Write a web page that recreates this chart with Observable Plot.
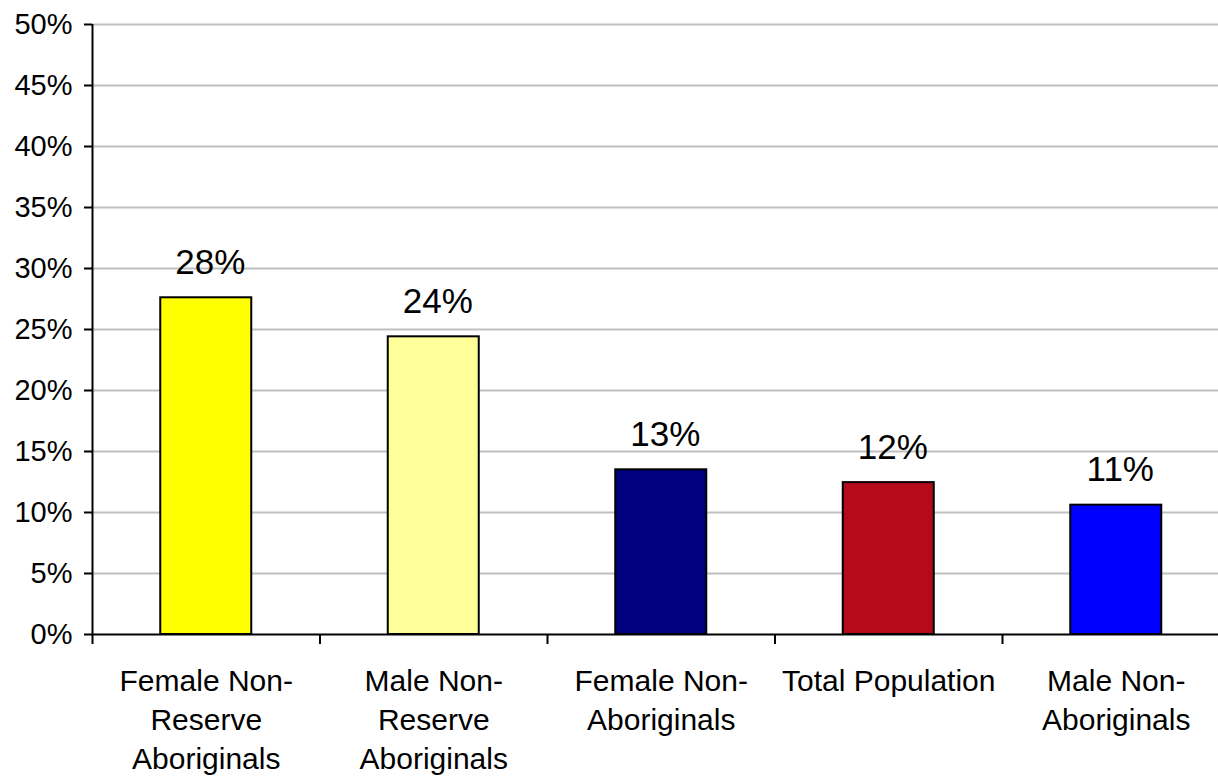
<!DOCTYPE html>
<html><head><meta charset="utf-8">
<script src="https://cdn.jsdelivr.net/npm/d3@7"></script>
<script src="https://cdn.jsdelivr.net/npm/@observablehq/plot@0.6"></script>
<style>html,body{margin:0;padding:0;background:#fff;overflow:hidden}</style>
</head><body><div id="chart"></div>
<script>
const categories = ["Female Non-\nReserve\nAboriginals", "Male Non-\nReserve\nAboriginals", "Female Non-\nAboriginals", "Total Population", "Male Non-\nAboriginals"];
const values = [27.6, 24.4, 13.5, 12.45, 10.6];
const valueLabels = ["28%", "24%", "13%", "12%", "11%"];
const colors = ["#FFFF00", "#FFFF99", "#000080", "#B40A1A", "#0000FF"];
const yTicks = [0, 5, 10, 15, 20, 25, 30, 35, 40, 45, 50];

const data = categories.map((c, i) => ({i, name: c, value: values[i], label: valueLabels[i], color: colors[i]}));

const plot = Plot.plot({
  width: 1218, height: 776,
  marginLeft: 92, marginTop: 24, marginBottom: 142, marginRight: -11.5,
  style: {fontFamily: "'Liberation Sans', Arial, sans-serif", fontSize: "29px", color: "#000", background: "#fff", overflow: "visible"},
  x: {domain: [0, categories.length], axis: null, label: null},
  y: {domain: [0, 50], axis: null, label: null},
  color: {type: "identity"},
  marks: [
    Plot.ruleY(yTicks.filter(d => d > 0), {stroke: "#c0c0c0", strokeWidth: 2}),
    Plot.rectY(data, {x1: d => d.i + 0.3, x2: d => d.i + 0.7, y: "value", fill: "color", stroke: "#000", strokeWidth: 2}),
    Plot.text(data, {x: d => d.i + 0.5, y: "value", text: "label", dx: 4, dy: -24, lineAnchor: "bottom", fontSize: 35}),
    Plot.axisY({ticks: yTicks, tickFormat: d => d + "%", tickSize: 8, tickPadding: 12, fontSize: 29, strokeWidth: 2, label: null}),
    Plot.ruleX([0], {stroke: "#000", strokeWidth: 2}),
    Plot.ruleY([0], {stroke: "#000", strokeWidth: 2}),
    Plot.axisX({ticks: d3.range(categories.length + 1), tickSize: 10, tickFormat: () => "", strokeWidth: 2, label: null}),
    Plot.axisX({ticks: data.map(d => d.i + 0.5), tickSize: 0, tickPadding: 29, tickFormat: d => categories[Math.floor(d)], lineHeight: 1.3, fontSize: 30, label: null})
  ]
});
document.getElementById("chart").appendChild(plot);
</script>
</body></html>
